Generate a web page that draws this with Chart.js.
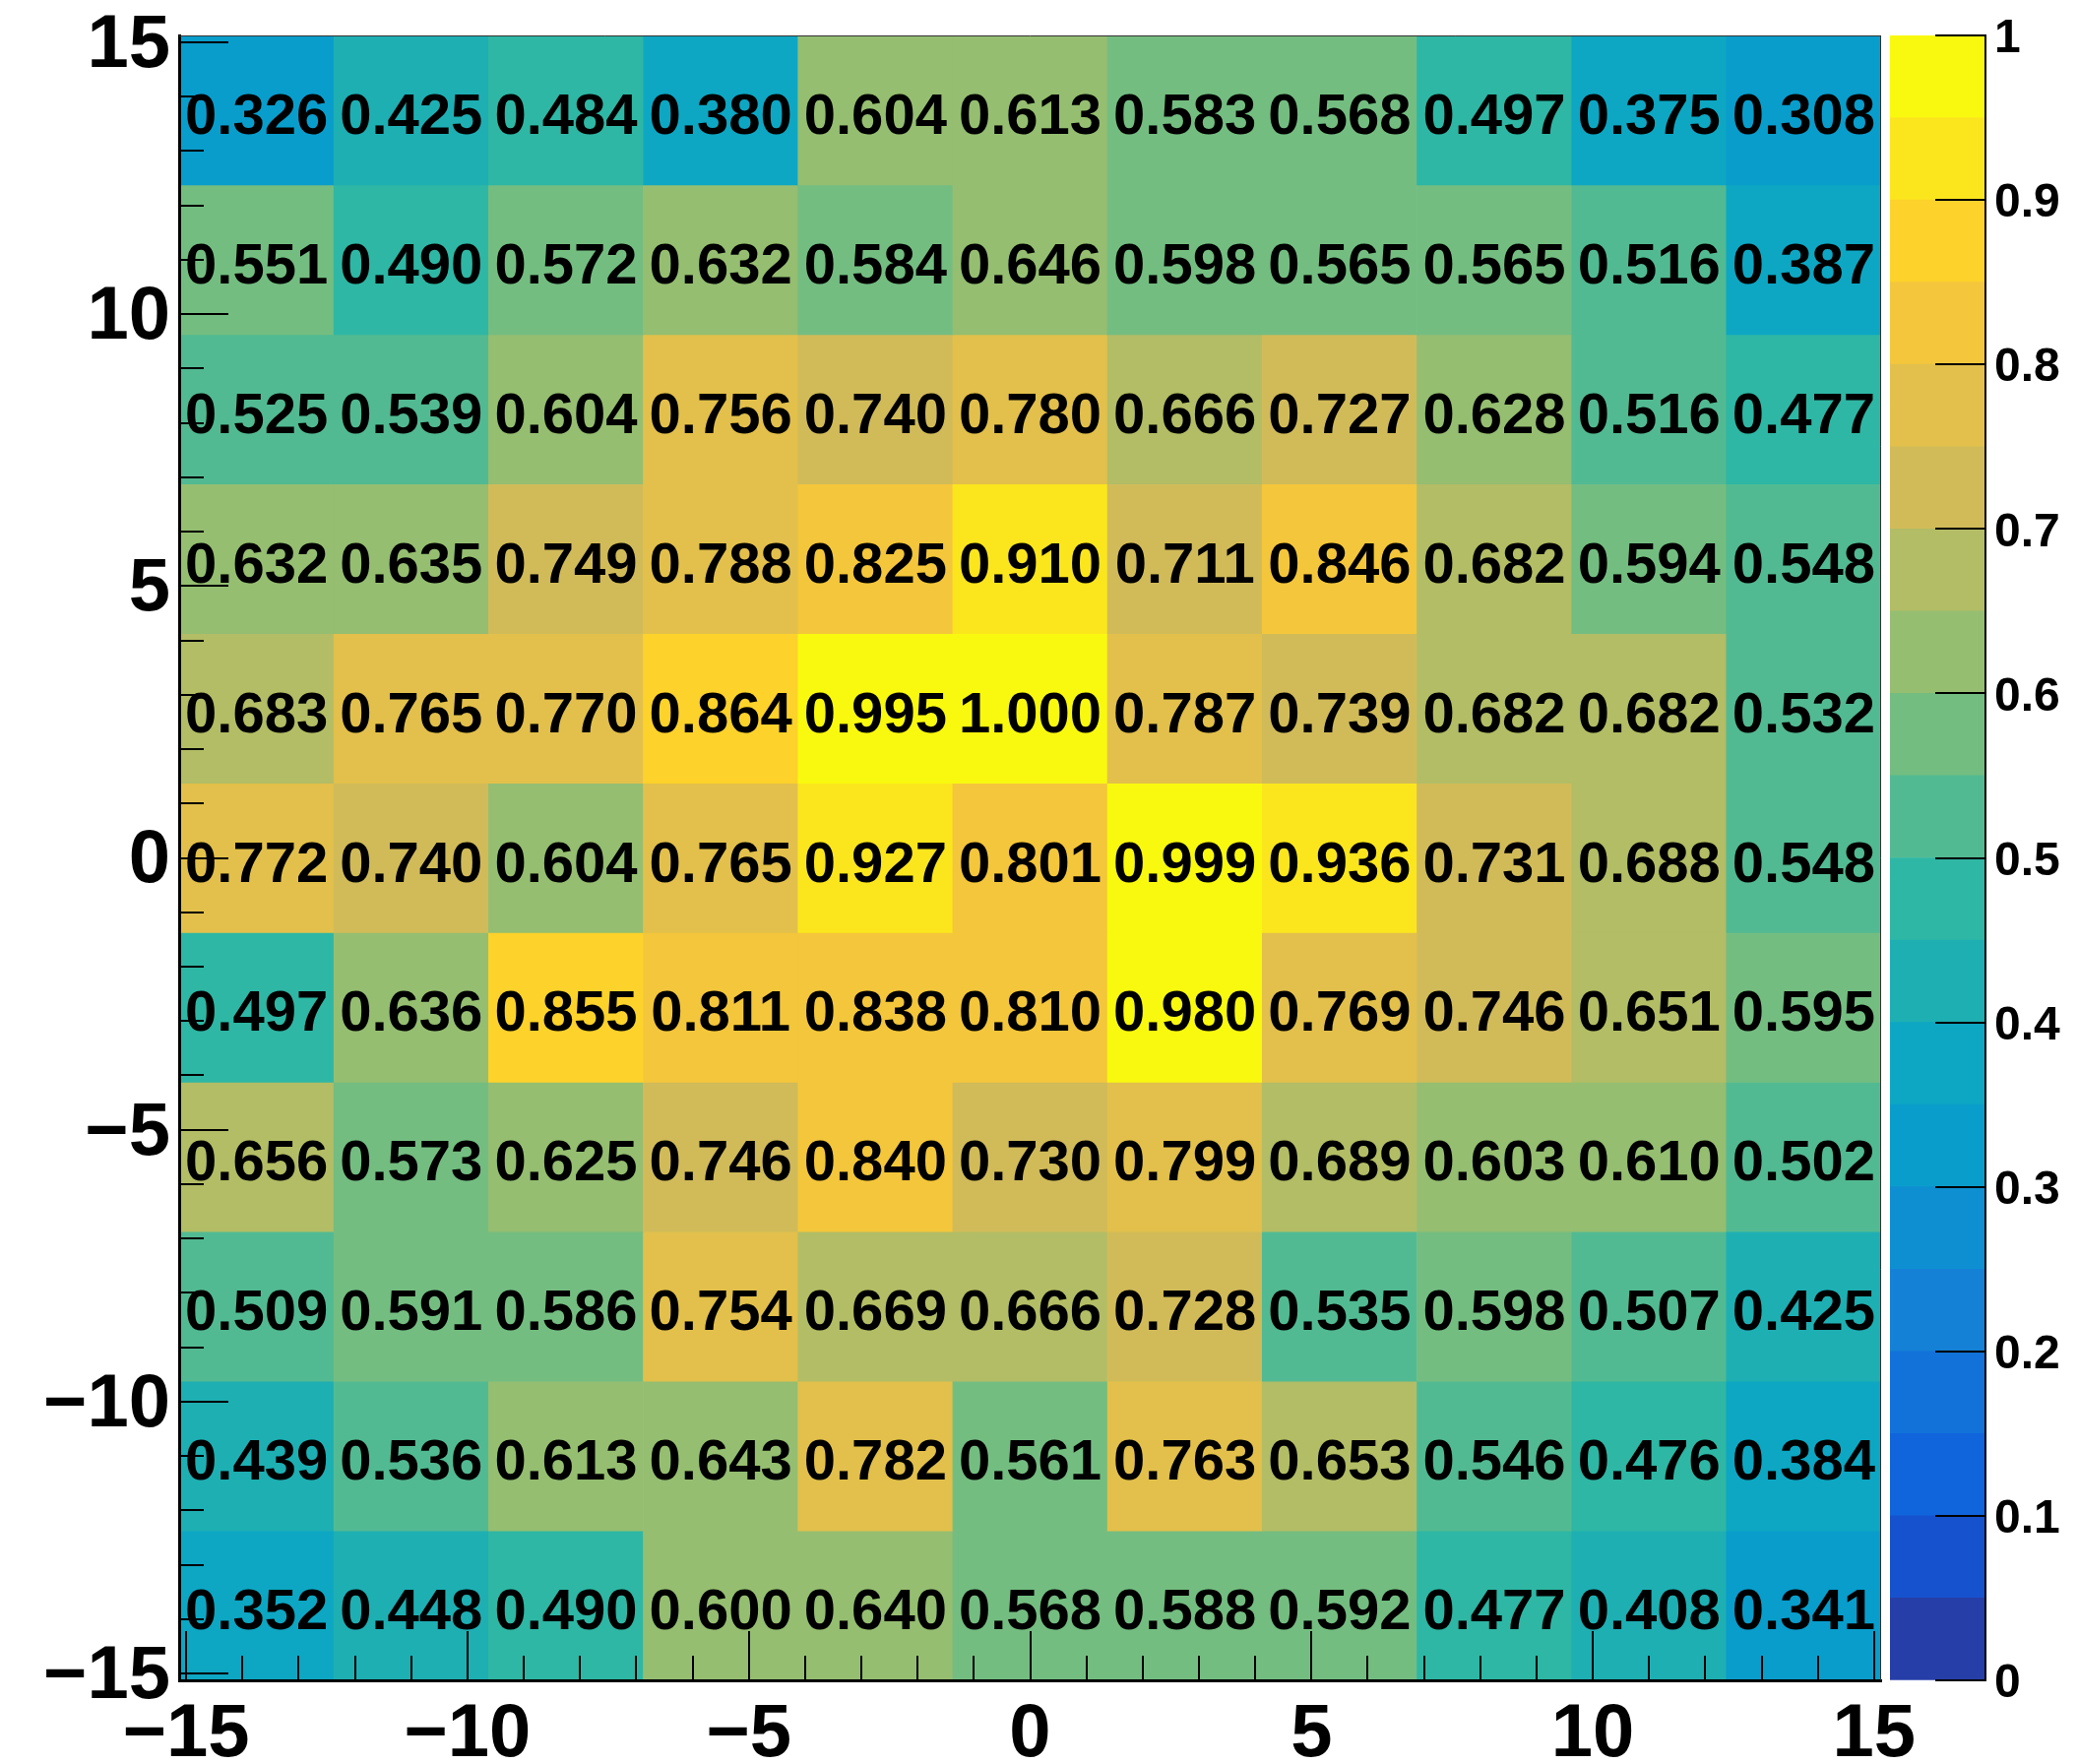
<!DOCTYPE html>
<html>
<head>
<meta charset="utf-8">
<script src="https://cdn.jsdelivr.net/npm/chart.js@4.4.1/dist/chart.umd.min.js"></script>
<style>
html,body{margin:0;padding:0;background:#ffffff;}
#wrap{position:relative;width:2111px;height:1792px;background:#ffffff;}
#wrap canvas{position:absolute;left:0;top:0;}
</style>
</head>
<body>
<div id="wrap">
<canvas id="main" width="2111" height="1792"></canvas>
<canvas id="zbar" width="2111" height="1792"></canvas>
</div>
<script>
// ---------- data ----------
const xEdges = [-15.125, -12.375, -9.625, -6.875, -4.125, -1.375, 1.375, 4.125, 6.875, 9.625, 12.375, 15.125];
const yEdges = [-15.125, -12.375, -9.625, -6.875, -4.125, -1.375, 1.375, 4.125, 6.875, 9.625, 12.375, 15.125];

// rows listed from top (highest y) to bottom (lowest y), columns left to right
const row01 = [0.326, 0.425, 0.484, 0.380, 0.604, 0.613, 0.583, 0.568, 0.497, 0.375, 0.308];
const row02 = [0.551, 0.490, 0.572, 0.632, 0.584, 0.646, 0.598, 0.565, 0.565, 0.516, 0.387];
const row03 = [0.525, 0.539, 0.604, 0.756, 0.740, 0.780, 0.666, 0.727, 0.628, 0.516, 0.477];
const row04 = [0.632, 0.635, 0.749, 0.788, 0.825, 0.910, 0.711, 0.846, 0.682, 0.594, 0.548];
const row05 = [0.683, 0.765, 0.770, 0.864, 0.995, 1.000, 0.787, 0.739, 0.682, 0.682, 0.532];
const row06 = [0.772, 0.740, 0.604, 0.765, 0.927, 0.801, 0.999, 0.936, 0.731, 0.688, 0.548];
const row07 = [0.497, 0.636, 0.855, 0.811, 0.838, 0.810, 0.980, 0.769, 0.746, 0.651, 0.595];
const row08 = [0.656, 0.573, 0.625, 0.746, 0.840, 0.730, 0.799, 0.689, 0.603, 0.610, 0.502];
const row09 = [0.509, 0.591, 0.586, 0.754, 0.669, 0.666, 0.728, 0.535, 0.598, 0.507, 0.425];
const row10 = [0.439, 0.536, 0.613, 0.643, 0.782, 0.561, 0.763, 0.653, 0.546, 0.476, 0.384];
const row11 = [0.352, 0.448, 0.490, 0.600, 0.640, 0.568, 0.588, 0.592, 0.477, 0.408, 0.341];
const rowsTopToBottom = [row01, row02, row03, row04, row05, row06, row07, row08, row09, row10, row11];

const xTickVals = [-15, -10, -5, 0, 5, 10, 15];
const xTickLabels = ['\u221215', '\u221210', '\u22125', '0', '5', '10', '15'];
const yTickVals = [-15, -10, -5, 0, 5, 10, 15];
const yTickLabels = ['\u221215', '\u221210', '\u22125', '0', '5', '10', '15'];
const zTickVals = [0, 0.1, 0.2, 0.3, 0.4, 0.5, 0.6, 0.7, 0.8, 0.9, 1];
const zTickLabels = ['0', '0.1', '0.2', '0.3', '0.4', '0.5', '0.6', '0.7', '0.8', '0.9', '1'];
const zMin = 0, zMax = 1, nContours = 20;

// ---------- palette (ROOT kBird, 255 colours) ----------
function birdPalette() {
  const st = [0.0000, 0.1250, 0.2500, 0.3750, 0.5000, 0.6250, 0.7500, 0.8750, 1.0000];
  const R = [0.2082, 0.0592, 0.0780, 0.0232, 0.1802, 0.5301, 0.8186, 0.9956, 0.9764];
  const G = [0.1664, 0.3599, 0.5041, 0.6419, 0.7178, 0.7492, 0.7328, 0.7862, 0.9832];
  const B = [0.5293, 0.8684, 0.8385, 0.7914, 0.6425, 0.4662, 0.3499, 0.1968, 0.0539];
  const N = 255, pal = [];
  for (let g = 1; g < st.length; g++) {
    const n = Math.floor(N * st[g]) - Math.floor(N * st[g - 1]);
    for (let c = 0; c < n; c++) {
      const r = R[g - 1] + c * (R[g] - R[g - 1]) / n;
      const gg = G[g - 1] + c * (G[g] - G[g - 1]) / n;
      const b = B[g - 1] + c * (B[g] - B[g - 1]) / n;
      pal.push('rgb(' + Math.round(r * 255) + ',' + Math.round(gg * 255) + ',' + Math.round(b * 255) + ')');
    }
  }
  return pal;
}
const PAL = birdPalette();
function bandColor(k) {
  return PAL[Math.min(PAL.length - 1, Math.floor((k + 0.99) * PAL.length / nContours))];
}
function colorFor(v) {
  let k = Math.floor((v - zMin) / (zMax - zMin) * nContours + 1e-9);
  k = Math.max(0, Math.min(nContours - 1, k));
  return bandColor(k);
}

// ---------- build datasets ----------
const xCenters = xEdges.slice(0, -1).map((e, i) => (e + xEdges[i + 1]) / 2);
const nRows = rowsTopToBottom.length;
const cellDatasets = rowsTopToBottom.map((row, r) => {
  const lo = yEdges[nRows - 1 - r], hi = yEdges[nRows - r];
  return {
    data: row.map((v, i) => ({ x: xCenters[i], y: [lo, hi], v: v })),
    backgroundColor: (ctx) => (ctx.raw ? colorFor(ctx.raw.v) : '#000'),
    borderWidth: 0,
    grouped: false,
    barPercentage: 1,
    categoryPercentage: 1
  };
});

const FONT = '"Liberation Sans", Arial, Helvetica, sans-serif';

const mainDecor = {
  id: 'mainDecor',
  afterDatasetsDraw(chart) {
    const ctx = chart.ctx;
    ctx.save();
    ctx.font = 'bold 58px ' + FONT;
    ctx.textAlign = 'center';
    ctx.textBaseline = 'middle';
    ctx.fillStyle = '#000';
    chart.data.datasets.forEach((ds, di) => {
      const meta = chart.getDatasetMeta(di);
      meta.data.forEach((el, i) => {
        const c = el.getCenterPoint();
        ctx.fillText(ds.data[i].v.toFixed(3), c.x, c.y + 8);
      });
    });
    ctx.restore();
  },
  afterDraw(chart) {
    const ctx = chart.ctx, a = chart.chartArea;
    const xs = chart.scales.x, ys = chart.scales.y;
    ctx.save();
    // thin frame top / right
    ctx.strokeStyle = '#333';
    ctx.lineWidth = 1;
    ctx.beginPath();
    ctx.moveTo(a.left, a.top + 0.5); ctx.lineTo(a.right, a.top + 0.5);
    ctx.moveTo(a.right - 0.5, a.top); ctx.lineTo(a.right - 0.5, a.bottom);
    ctx.stroke();
    // tick marks inside
    ctx.strokeStyle = '#000';
    ctx.lineWidth = 2;
    ctx.beginPath();
    for (let v = Math.ceil(xs.min); v <= Math.floor(xs.max); v++) {
      const p = Math.round(xs.getPixelForValue(v));
      const len = (v % 5 === 0) ? 50 : 25;
      ctx.moveTo(p, a.bottom); ctx.lineTo(p, a.bottom - len);
    }
    for (let v = Math.ceil(ys.min); v <= Math.floor(ys.max); v++) {
      const p = Math.round(ys.getPixelForValue(v));
      const len = (v % 5 === 0) ? 50 : 25;
      ctx.moveTo(a.left, p); ctx.lineTo(a.left + len, p);
    }
    ctx.stroke();
    ctx.restore();
  }
};

new Chart(document.getElementById('main'), {
  type: 'bar',
  data: { datasets: cellDatasets },
  options: {
    responsive: false,
    animation: false,
    events: [],
    layout: { padding: { left: 0, top: 36, right: 200, bottom: 0 } },
    plugins: { legend: { display: false }, tooltip: { enabled: false } },
    scales: {
      x: {
        type: 'linear',
        min: xEdges[0], max: xEdges[xEdges.length - 1],
        offset: false,
        grid: { offset: false, drawOnChartArea: false, drawTicks: false },
        border: { display: true, color: '#000', width: 3, z: 2 },
        afterBuildTicks: (s) => { s.ticks = xTickVals.map(v => ({ value: v })); },
        afterFit: (s) => { s.height = 85; s.paddingLeft = 0; s.paddingRight = 0; },
        ticks: {
          autoSkip: false, maxRotation: 0, padding: 10, color: '#000',
          font: { family: FONT, weight: 'bold', size: 76 },
          callback: (v, i) => xTickLabels[i]
        }
      },
      y: {
        type: 'linear',
        min: yEdges[0], max: yEdges[yEdges.length - 1],
        grid: { drawOnChartArea: false, drawTicks: false },
        border: { display: true, color: '#000', width: 3, z: 2 },
        afterBuildTicks: (s) => { s.ticks = yTickVals.map(v => ({ value: v })); },
        afterFit: (s) => { s.width = 182; s.paddingTop = 0; s.paddingBottom = 0; },
        ticks: {
          autoSkip: false, padding: 9, labelOffset: 4, color: '#000',
          font: { family: FONT, weight: 'bold', size: 76 },
          callback: (v, i) => yTickLabels[i]
        }
      }
    }
  },
  plugins: [mainDecor]
});

// ---------- colour bar ----------
const bandDatasets = [];
for (let k = 0; k < nContours; k++) {
  const lo = zMin + k * (zMax - zMin) / nContours, hi = zMin + (k + 1) * (zMax - zMin) / nContours;
  bandDatasets.push({
    data: [{ x: 'z', y: [lo, hi] }],
    backgroundColor: bandColor(k),
    borderWidth: 0,
    grouped: false,
    barPercentage: 1,
    categoryPercentage: 1
  });
}

const zDecor = {
  id: 'zDecor',
  afterDraw(chart) {
    const ctx = chart.ctx, a = chart.chartArea, zs = chart.scales.y;
    ctx.save();
    ctx.strokeStyle = '#000';
    ctx.lineWidth = 2;
    ctx.beginPath();
    zTickVals.forEach(v => {
      const p = Math.round(zs.getPixelForValue(v));
      ctx.moveTo(a.right, p); ctx.lineTo(a.right - 51, p);
    });
    ctx.stroke();
    ctx.restore();
  }
};

new Chart(document.getElementById('zbar'), {
  type: 'bar',
  data: { labels: ['z'], datasets: bandDatasets },
  options: {
    responsive: false,
    animation: false,
    events: [],
    layout: { padding: { left: 1920, top: 36, right: 0, bottom: 85 } },
    plugins: { legend: { display: false }, tooltip: { enabled: false } },
    scales: {
      x: { type: 'category', display: false },
      y: {
        type: 'linear', position: 'right',
        min: zMin, max: zMax,
        grid: { drawOnChartArea: false, drawTicks: false },
        border: { display: true, color: '#000', width: 2, z: 2 },
        afterBuildTicks: (s) => { s.ticks = zTickVals.map(v => ({ value: v })); },
        afterFit: (s) => { s.width = 94; s.paddingTop = 0; s.paddingBottom = 0; },
        ticks: {
          autoSkip: false, padding: 9, labelOffset: 4, color: '#000',
          font: { family: FONT, weight: 'bold', size: 48 },
          callback: (v, i) => zTickLabels[i]
        }
      }
    }
  },
  plugins: [zDecor]
});
</script>
</body>
</html>
